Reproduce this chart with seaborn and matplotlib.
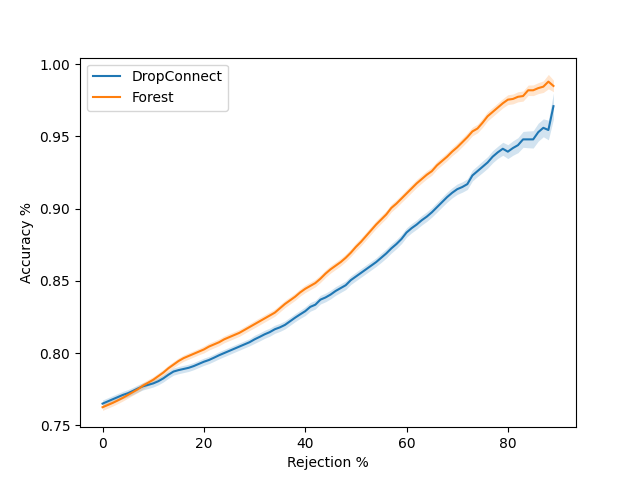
import numpy as np
import pandas as pd
import matplotlib
matplotlib.use("Agg")
import matplotlib.pyplot as plt
import seaborn as sns

rejection = list(range(90))

dropconnect = [
    0.7650, 0.7665, 0.7680, 0.7695, 0.7710, 0.7722, 0.7738, 0.7755, 0.7770, 0.7780,
    0.7790, 0.7805, 0.7825, 0.7850, 0.7872, 0.7882, 0.7890, 0.7898, 0.7910, 0.7925,
    0.7940, 0.7952, 0.7968, 0.7985, 0.8000, 0.8015, 0.8030, 0.8045, 0.8060, 0.8075,
    0.8095, 0.8112, 0.8130, 0.8145, 0.8165, 0.8178, 0.8195, 0.8220, 0.8245, 0.8268,
    0.8290, 0.8320, 0.8335, 0.8370, 0.8385, 0.8405, 0.8430, 0.8450, 0.8470, 0.8505,
    0.8530, 0.8555, 0.8580, 0.8605, 0.8630, 0.8660, 0.8690, 0.8725, 0.8755, 0.8790,
    0.8835, 0.8865, 0.8890, 0.8920, 0.8945, 0.8975, 0.9010, 0.9045, 0.9080, 0.9110,
    0.9135, 0.9150, 0.9170, 0.9230, 0.9260, 0.9290, 0.9320, 0.9360, 0.9390, 0.9415,
    0.9395, 0.9420, 0.9440, 0.9480, 0.9480, 0.9480, 0.9530, 0.9560, 0.9545, 0.9710,
]

forest = [
    0.7625, 0.7640, 0.7655, 0.7672, 0.7690, 0.7710, 0.7730, 0.7750, 0.7775, 0.7795,
    0.7815, 0.7840, 0.7865, 0.7895, 0.7920, 0.7945, 0.7965, 0.7980, 0.7995, 0.8010,
    0.8025, 0.8045, 0.8060, 0.8075, 0.8095, 0.8110, 0.8125, 0.8140, 0.8160, 0.8180,
    0.8200, 0.8220, 0.8240, 0.8260, 0.8280, 0.8310, 0.8340, 0.8365, 0.8390, 0.8420,
    0.8445, 0.8465, 0.8485, 0.8515, 0.8550, 0.8580, 0.8605, 0.8630, 0.8660, 0.8695,
    0.8735, 0.8770, 0.8810, 0.8850, 0.8890, 0.8925, 0.8960, 0.9005, 0.9035, 0.9070,
    0.9105, 0.9140, 0.9175, 0.9205, 0.9235, 0.9260, 0.9300, 0.9330, 0.9360, 0.9395,
    0.9425, 0.9460, 0.9495, 0.9535, 0.9555, 0.9595, 0.9640, 0.9670, 0.9700, 0.9730,
    0.9755, 0.9760, 0.9775, 0.9780, 0.9820, 0.9820, 0.9835, 0.9845, 0.9880, 0.9850,
]

# half width of the shaded confidence band
dropconnect_ci = [
    0.0025, 0.0025, 0.0025, 0.0025, 0.0025, 0.0025, 0.0025, 0.0025, 0.0025, 0.0025,
    0.0025, 0.0025, 0.0025, 0.0025, 0.0025, 0.0025, 0.0025, 0.0025, 0.0025, 0.0025,
    0.0025, 0.0025, 0.0025, 0.0025, 0.0025, 0.0025, 0.0025, 0.0025, 0.0025, 0.0025,
    0.0028, 0.0028, 0.0028, 0.0028, 0.0028, 0.0028, 0.0028, 0.0028, 0.0028, 0.0028,
    0.0030, 0.0030, 0.0030, 0.0030, 0.0030, 0.0030, 0.0030, 0.0030, 0.0030, 0.0030,
    0.0030, 0.0030, 0.0030, 0.0030, 0.0030, 0.0032, 0.0032, 0.0032, 0.0032, 0.0032,
    0.0032, 0.0032, 0.0032, 0.0033, 0.0033, 0.0033, 0.0034, 0.0034, 0.0035, 0.0035,
    0.0036, 0.0036, 0.0037, 0.0038, 0.0038, 0.0040, 0.0040, 0.0042, 0.0042, 0.0045,
    0.0048, 0.0050, 0.0052, 0.0055, 0.0058, 0.0060, 0.0062, 0.0062, 0.0068, 0.0090,
]

forest_ci = [
    0.0022, 0.0022, 0.0022, 0.0022, 0.0022, 0.0022, 0.0022, 0.0022, 0.0022, 0.0022,
    0.0022, 0.0022, 0.0022, 0.0022, 0.0022, 0.0022, 0.0022, 0.0022, 0.0022, 0.0022,
    0.0024, 0.0024, 0.0024, 0.0024, 0.0024, 0.0024, 0.0024, 0.0024, 0.0024, 0.0024,
    0.0025, 0.0025, 0.0025, 0.0025, 0.0025, 0.0025, 0.0025, 0.0025, 0.0025, 0.0025,
    0.0026, 0.0026, 0.0026, 0.0026, 0.0026, 0.0026, 0.0026, 0.0026, 0.0026, 0.0026,
    0.0027, 0.0027, 0.0027, 0.0027, 0.0027, 0.0027, 0.0027, 0.0027, 0.0027, 0.0027,
    0.0028, 0.0028, 0.0028, 0.0028, 0.0028, 0.0028, 0.0028, 0.0028, 0.0028, 0.0028,
    0.0030, 0.0030, 0.0030, 0.0030, 0.0030, 0.0032, 0.0032, 0.0032, 0.0032, 0.0032,
    0.0034, 0.0034, 0.0035, 0.0035, 0.0036, 0.0037, 0.0038, 0.0040, 0.0050, 0.0040,
]


def build_frame():
    rows = []
    for name, vals in (("DropConnect", dropconnect), ("Forest", forest)):
        for x, y in zip(rejection, vals):
            rows.append({"Rejection": x, "Accuracy": y, "Model": name})
    return pd.DataFrame(rows)


def main():
    df = build_frame()
    colors = {"DropConnect": "#1f77b4", "Forest": "#ff7f0e"}

    fig, ax = plt.subplots(figsize=(6.4, 4.8), dpi=100)
    sns.lineplot(data=df, x="Rejection", y="Accuracy", hue="Model",
                 palette=colors, linewidth=1.5, ax=ax)

    for name, vals, ci in (("DropConnect", dropconnect, dropconnect_ci),
                           ("Forest", forest, forest_ci)):
        lo = np.array(vals) - np.array(ci)
        hi = np.array(vals) + np.array(ci)
        ax.fill_between(rejection, lo, hi, color=colors[name], alpha=0.2, linewidth=0)

    ax.set_xlabel("Rejection %")
    ax.set_ylabel("Accuracy %")
    ax.legend(title=None, loc="upper left")

    fig.savefig("out.png", dpi=100)


if __name__ == "__main__":
    main()
